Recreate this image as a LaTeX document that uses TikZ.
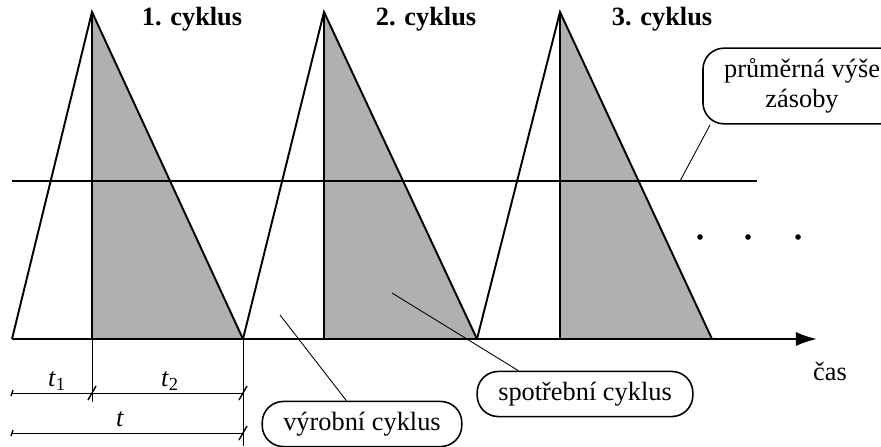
\documentclass[tikz,border=0pt]{standalone}
\usepackage{fontspec}
\setmainfont{Liberation Serif}
\usetikzlibrary{arrows.meta,calc}

\begin{document}
\begin{tikzpicture}
[x=0.02cm,y=-0.02cm,line width=1.1pt,
 every node/.style={font=\fontsize{15}{17}\selectfont,inner sep=0pt},
 bubble/.style={draw,line width=0.9pt,rounded corners=12pt,inner xsep=12pt,inner ysep=6pt},
 heading/.style={font=\fontsize{15}{17}\selectfont\bfseries},
 pointer/.style={line width=0.5pt},
 dim/.style={line width=0.5pt},
 tick/.style={line width=0.8pt}]
\useasboundingbox (0,0) rectangle (881,446);
% the three cycles: left foot, peak, right foot
\coordinate (l1) at (12,339);  \coordinate (a1) at (92,12);  \coordinate (r1) at (243,339);
\coordinate (l2) at (243,339); \coordinate (a2) at (324,12); \coordinate (r2) at (477,339);
\coordinate (l3) at (477,339); \coordinate (a3) at (560,12); \coordinate (r3) at (712,339);
\foreach \i in {1,2,3} {
  \fill[gray!62] (a\i) |- (r\i) -- cycle;
  \draw (l\i) -- (a\i) -- (r\i);
  \draw (a\i) -- (a\i |- r\i);
}
\node[heading] (c1) at (192,19) {1. cyklus};
\node[heading] (c2) at (426,19) {2. cyklus};
\node[heading] (c3) at (662,19) {3. cyklus};
% time axis
\coordinate (tend) at (817,339);
\draw[-{Latex[length=12pt,width=8pt]}] (l1) -- (tend);
\node (cas) at (830,371) {čas};
% average stock
\coordinate (m0) at (12,181);
\coordinate (m1) at (757,181);
\draw[line width=0.6pt] (m0) -- (m1);
\foreach \x in {700,748,798}
  \fill (\x,237) circle (1.6pt);
% dimensions
\coordinate (d0) at (12,393);  \coordinate (d1) at (92,393);  \coordinate (d2) at (243,393);
\coordinate (e0) at (12,433);  \coordinate (e2) at (243,433);
\draw[dim] (d0) -- (d2);
\draw[dim] (e0) -- (e2);
\draw[dim] (a1 |- l1) -- (92,402);
\draw[dim] (r1) -- (243,446);
\foreach \p in {d1,d2,e2}
  \draw[tick] ($(\p)+(-4,7)$) -- ($(\p)+(4,-7)$);
\foreach \p in {d0,e0}
  \draw[tick] ($(\p)+(-1,3)$) -- ($(\p)+(1,-3)$);
\node (t1) at (57,381) {\textit{t}\textsubscript{1}};
\node (t2) at (170,381) {\textit{t}\textsubscript{2}};
\node (t) at (120,419) {\textit{t}};
% callouts
\node[bubble,align=center] (prumer) at (802,86) {průměrná výše\\zásoby};
\node[bubble] (spotreba) at (585,394) {spotřební cyklus};
\node[bubble] (vyroba) at (362,424) {výrobní cyklus};
\coordinate (pm) at (680,181);
\coordinate (ps) at (392,293);
\coordinate (pv) at (280,315);
\draw[pointer] (pm) -- ($(prumer.south west)+(8,0)$);
\draw[pointer] (ps) -- ($(spotreba.north west)+(42,0)$);
\draw[pointer] (pv) -- ($(vyroba.north west)+(85,0)$);
\end{tikzpicture}
\end{document}
